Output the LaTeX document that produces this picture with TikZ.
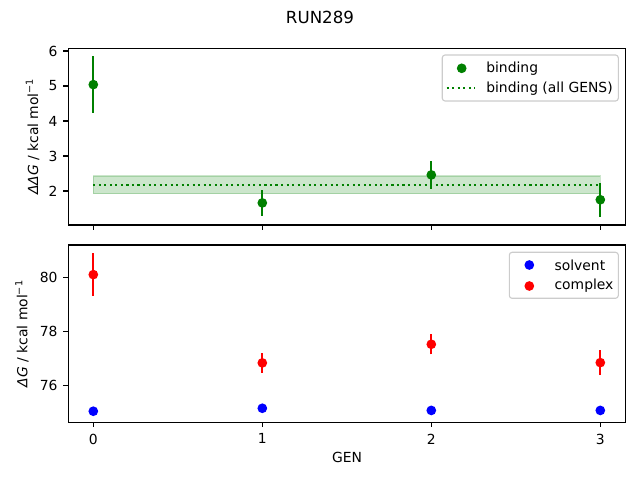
\documentclass[tikz,border=0pt]{standalone}
\usepackage{fontspec}
\setmainfont{DejaVu Sans}
\definecolor{mplgreen}{RGB}{0,128,0}
\definecolor{mplblue}{RGB}{0,0,255}
\definecolor{mplred}{RGB}{255,0,0}
\definecolor{framegray}{gray}{0.8}
\tikzset{
  spine/.style={line width=0.8pt},
  tickmark/.style={line width=0.8pt},
  ticklabel/.style={inner sep=0pt, font=\fontsize{10}{12}\selectfont},
  legendbox/.style={draw=framegray, line width=0.8pt, fill=white, fill opacity=0.8, rounded corners=2pt},
  errbar/.style={line width=1.5pt},
  meanline/.style={mplgreen, line width=1.5pt, dash pattern=on 1.5pt off 2.475pt}
}

\begin{document}
\begin{tikzpicture}[x=0.72pt, y=-0.72pt]
    \useasboundingbox (0,0) rectangle (640,480);

    \node[font=\fontsize{12}{14}\selectfont] (title) at (320,17) {RUN289};

    % upper panel
    \begin{scope}[x=121.68pt, y=25.2pt, xshift=67.18pt, yshift=-187.92pt]
        \fill[mplgreen, opacity=0.2] (0,1.92) rectangle (3,2.43);
        \draw[mplgreen, opacity=0.2, line width=1pt] (0,1.92) rectangle (3,2.43);
        \draw[meanline] (0,2.18) -- (3,2.18);
        \foreach \g/\v/\e in {0/5.04/0.81, 1/1.66/0.37, 2/2.46/0.40, 3/1.75/0.48} {
            \draw[errbar, mplgreen] (\g,\v-\e) -- (\g,\v+\e);
            \fill[mplgreen] (\g,\v) circle[radius=3.5pt];
        }
    \end{scope}
    \draw[spine] (68.3,48.3) rectangle (625.7,225);
    \foreach \v/\py in {6/51, 5/86, 4/121, 3/156, 2/191} {
        \draw[tickmark] (68.3,\py) -- ++(-4.86,0);
        \node[ticklabel, anchor=east] (ya\v) at (57.8,\py) {\v};
    }
    \foreach \px in {93.3, 262.3, 431.3, 600.3}
        \draw[tickmark] (\px,225) -- ++(0,4.86);
    \node[ticklabel, rotate=90, anchor=base] (ylaba) at (38,136.6) {\textit{ΔΔG} / kcal mol\textsuperscript{−1}};

    \draw[legendbox] (442.3,55) rectangle (618.3,101);
    \fill[mplgreen] (461.7,68.3) circle[radius=3.5pt];
    \draw[meanline] (446.7,88.3) -- (475,88.3);
    \node[ticklabel, anchor=west] (lbind) at (486,68.3) {binding};
    \node[ticklabel, anchor=west] (lall) at (486,88.3) {binding (all GENS)};

    % lower panel
    \begin{scope}[x=121.68pt, y=19.44pt, xshift=67.18pt, yshift=-1754.86pt]
        \foreach \g/\v in {0/75.04, 1/75.15, 2/75.07, 3/75.07}
            \fill[mplblue] (\g,\v) circle[radius=3.5pt];
        \foreach \g/\v/\e in {0/80.10/0.79, 1/76.83/0.36, 2/77.52/0.37, 3/76.84/0.46} {
            \draw[errbar, mplred] (\g,\v-\e) -- (\g,\v+\e);
            \fill[mplred] (\g,\v) circle[radius=3.5pt];
        }
    \end{scope}
    \draw[spine] (68.3,245) rectangle (625.7,422.3);
    \foreach \v/\py in {80/277.3, 78/331.3, 76/385.3} {
        \draw[tickmark] (68.3,\py) -- ++(-4.86,0);
        \node[ticklabel, anchor=east] (yb\v) at (57.8,\py) {\v};
    }
    \foreach \g/\px in {0/93.3, 1/262.3, 2/431.3, 3/600.3} {
        \draw[tickmark] (\px,422.3) -- ++(0,4.86);
        \node[ticklabel, anchor=north] (xb\g) at (\px,433.5) {\g};
    }
    \node[ticklabel, rotate=90, anchor=base] (ylabb) at (27.5,333.6) {\textit{ΔG} / kcal mol\textsuperscript{−1}};
    \node[ticklabel, anchor=north] (xlab) at (347,452.3) {GEN};

    \draw[legendbox] (509.3,252.3) rectangle (618.3,298.3);
    \fill[mplblue] (529.3,265) circle[radius=3.5pt];
    \fill[mplred] (529.3,286) circle[radius=3.5pt];
    \node[ticklabel, anchor=west] (lsolv) at (554.3,265) {solvent};
    \node[ticklabel, anchor=west] (lcomp) at (554.3,286) {complex};

\end{tikzpicture}
\end{document}
